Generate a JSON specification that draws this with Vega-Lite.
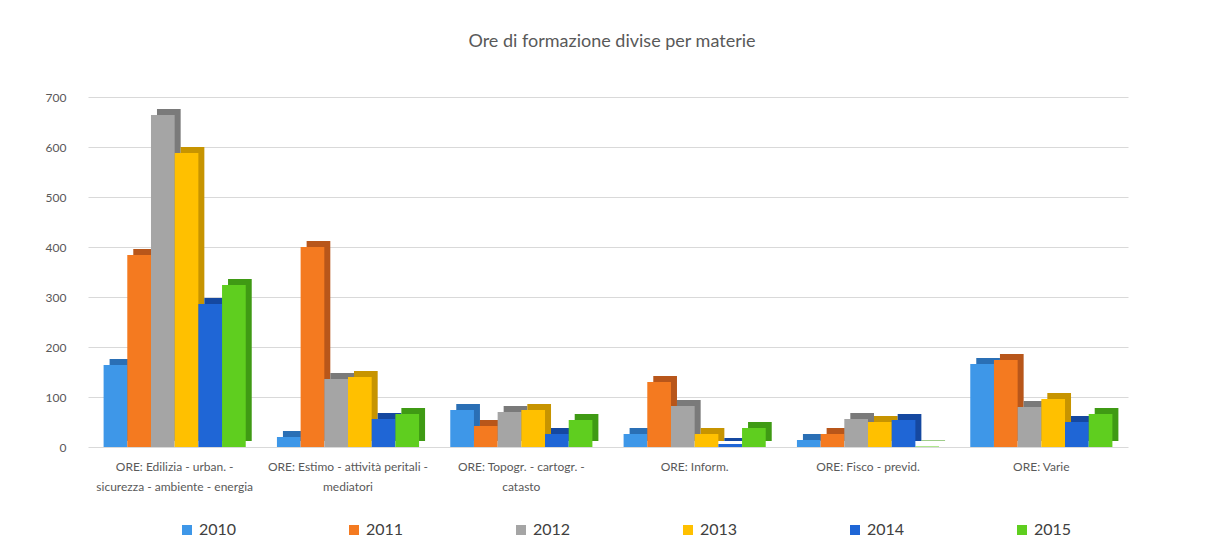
{
  "$schema": "https://vega.github.io/schema/vega-lite/v6.json",
  "width": 1040,
  "height": 350,
  "autosize": {"type": "none"},
  "padding": {"left": 88, "top": 97, "right": 77, "bottom": 103},
  "background": "white",
  "title": {
    "text": "Ore di formazione divise per materie",
    "fontSize": 18,
    "font": "Lato",
    "fontWeight": "normal",
    "color": "#595959",
    "offset": 40,
    "anchor": "middle",
    "dx": 4
  },
  "config": {
    "font": "Lato",
    "view": {"stroke": null}
  },
  "data": {
    "values": [
      {"materia": "ORE: Edilizia - urban. - sicurezza - ambiente - energia", "anno": "2010", "ore": 164},
      {"materia": "ORE: Edilizia - urban. - sicurezza - ambiente - energia", "anno": "2011", "ore": 384},
      {"materia": "ORE: Edilizia - urban. - sicurezza - ambiente - energia", "anno": "2012", "ore": 664},
      {"materia": "ORE: Edilizia - urban. - sicurezza - ambiente - energia", "anno": "2013", "ore": 588},
      {"materia": "ORE: Edilizia - urban. - sicurezza - ambiente - energia", "anno": "2014", "ore": 286},
      {"materia": "ORE: Edilizia - urban. - sicurezza - ambiente - energia", "anno": "2015", "ore": 324},
      {"materia": "ORE: Estimo - attività peritali - mediatori", "anno": "2010", "ore": 20},
      {"materia": "ORE: Estimo - attività peritali - mediatori", "anno": "2011", "ore": 400},
      {"materia": "ORE: Estimo - attività peritali - mediatori", "anno": "2012", "ore": 136},
      {"materia": "ORE: Estimo - attività peritali - mediatori", "anno": "2013", "ore": 140},
      {"materia": "ORE: Estimo - attività peritali - mediatori", "anno": "2014", "ore": 56},
      {"materia": "ORE: Estimo - attività peritali - mediatori", "anno": "2015", "ore": 66},
      {"materia": "ORE: Topogr. - cartogr. - catasto", "anno": "2010", "ore": 74},
      {"materia": "ORE: Topogr. - cartogr. - catasto", "anno": "2011", "ore": 42},
      {"materia": "ORE: Topogr. - cartogr. - catasto", "anno": "2012", "ore": 70},
      {"materia": "ORE: Topogr. - cartogr. - catasto", "anno": "2013", "ore": 74},
      {"materia": "ORE: Topogr. - cartogr. - catasto", "anno": "2014", "ore": 26},
      {"materia": "ORE: Topogr. - cartogr. - catasto", "anno": "2015", "ore": 54},
      {"materia": "ORE: Inform.", "anno": "2010", "ore": 26},
      {"materia": "ORE: Inform.", "anno": "2011", "ore": 130},
      {"materia": "ORE: Inform.", "anno": "2012", "ore": 82},
      {"materia": "ORE: Inform.", "anno": "2013", "ore": 26},
      {"materia": "ORE: Inform.", "anno": "2014", "ore": 6},
      {"materia": "ORE: Inform.", "anno": "2015", "ore": 38},
      {"materia": "ORE: Fisco - previd.", "anno": "2010", "ore": 14},
      {"materia": "ORE: Fisco - previd.", "anno": "2011", "ore": 26},
      {"materia": "ORE: Fisco - previd.", "anno": "2012", "ore": 56},
      {"materia": "ORE: Fisco - previd.", "anno": "2013", "ore": 50},
      {"materia": "ORE: Fisco - previd.", "anno": "2014", "ore": 54},
      {"materia": "ORE: Fisco - previd.", "anno": "2015", "ore": 1},
      {"materia": "ORE: Varie", "anno": "2010", "ore": 166},
      {"materia": "ORE: Varie", "anno": "2011", "ore": 174},
      {"materia": "ORE: Varie", "anno": "2012", "ore": 80},
      {"materia": "ORE: Varie", "anno": "2013", "ore": 96},
      {"materia": "ORE: Varie", "anno": "2014", "ore": 50},
      {"materia": "ORE: Varie", "anno": "2015", "ore": 66}
    ]
  },
  "encoding": {
    "x": {
      "field": "materia",
      "type": "nominal",
      "sort": null,
      "scale": {"paddingInner": 0.18, "paddingOuter": 0.09},
      "axis": {
        "title": null,
        "domain": false,
        "ticks": false,
        "labelAngle": 0,
        "labelPadding": 14,
        "labelFontSize": 12,
        "labelColor": "#595959",
        "labelLineHeight": 20,
        "labelLimit": 250,
        "labelExpr": "datum.value == 'ORE: Edilizia - urban. - sicurezza - ambiente - energia' ? ['ORE: Edilizia - urban. -', 'sicurezza - ambiente - energia'] : datum.value == 'ORE: Estimo - attività peritali - mediatori' ? ['ORE: Estimo - attività peritali -', 'mediatori'] : datum.value == 'ORE: Topogr. - cartogr. - catasto' ? ['ORE: Topogr. - cartogr. -', 'catasto'] : datum.label"
      }
    },
    "y": {
      "field": "ore",
      "type": "quantitative",
      "scale": {"domain": [0, 700], "nice": false},
      "axis": {
        "title": null,
        "domain": false,
        "ticks": false,
        "values": [0, 100, 200, 300, 400, 500, 600, 700],
        "labelFontSize": 12,
        "labelColor": "#595959",
        "labelPadding": 22,
        "gridColor": "#D9D9D9",
        "gridWidth": 1
      }
    }
  },
  "layer": [
    {
      "mark": {"type": "bar", "yOffset": -6},
      "encoding": {
        "xOffset": {"field": "anno", "type": "nominal", "sort": null, "scale": {"range": [6, 148.13]}},
        "color": {
          "field": "anno",
          "type": "nominal",
          "scale": {"range": ["#2A6FB5", "#B8561A", "#7A7A7A", "#C79400", "#1548A0", "#3F9A14"]},
          "legend": null
        }
      }
    },
    {
      "mark": {"type": "bar"},
      "encoding": {
        "xOffset": {"field": "anno", "type": "nominal", "sort": null},
        "color": {
          "field": "anno",
          "type": "nominal",
          "scale": {"range": ["#3E97E8", "#F47A20", "#A5A5A5", "#FFC000", "#1F66D6", "#5FCE1F"]},
          "legend": {
            "title": null,
            "orient": "none",
            "direction": "horizontal",
            "legendX": 91,
            "legendY": 425,
            "symbolType": "square",
            "symbolSize": 100,
            "symbolStrokeWidth": 0,
            "labelFontSize": 16,
            "labelColor": "#404040",
            "columnPadding": 109,
            "labelOffset": 4
          }
        }
      }
    }
  ],
  "resolve": {"scale": {"color": "independent", "xOffset": "independent"}}
}
